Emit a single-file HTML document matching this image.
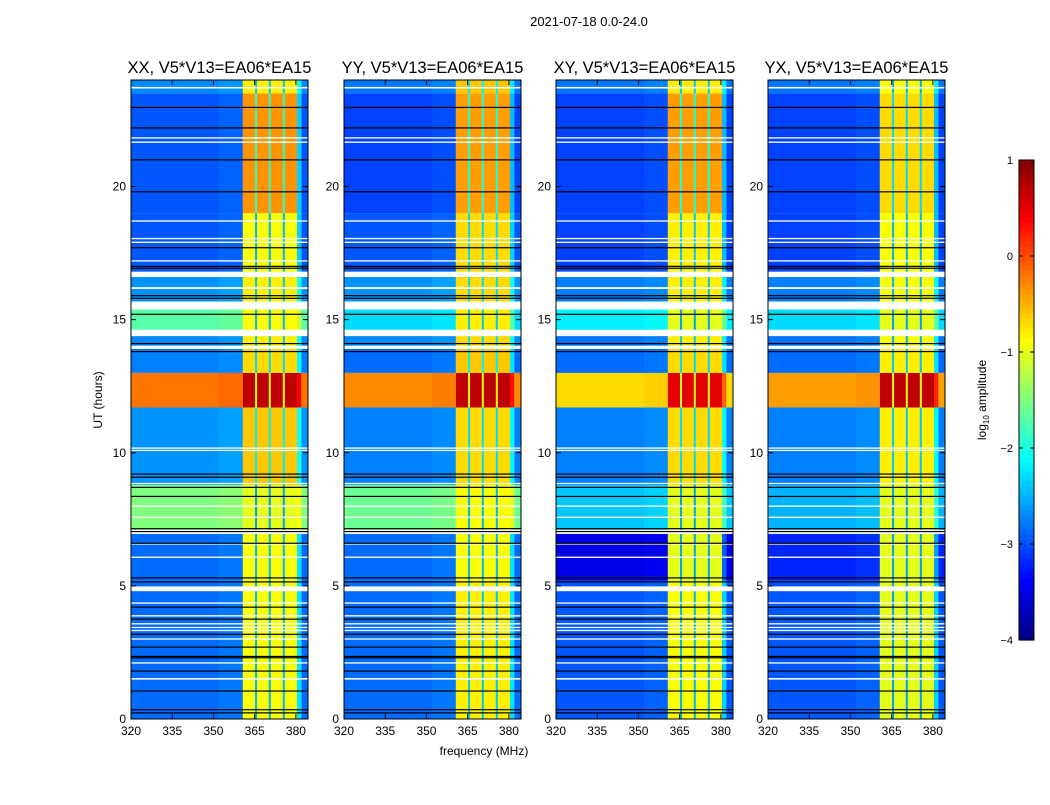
<!DOCTYPE html>
<html><head><meta charset="utf-8">
<style>
body{margin:0;background:#fff;font-family:"Liberation Sans",sans-serif;}
svg text{font-family:"Liberation Sans",sans-serif;}
</style></head>
<body>
<svg id="chart" width="1050" height="800" xmlns="http://www.w3.org/2000/svg">
<rect width="1050" height="800" fill="#fff"/>
<text x="589" y="26" font-size="13" text-anchor="middle">2021-07-18 0.0-24.0</text>
<text x="484" y="755" font-size="12" text-anchor="middle">frequency (MHz)</text>
<text transform="translate(102,400) rotate(-90)" font-size="12" text-anchor="middle">UT (hours)</text>
<g id="panels"></g>
<g id="cbar"></g>
</svg>
<script>
const panelTitles = ["XX, V5*V13=EA06*EA15","YY, V5*V13=EA06*EA15","XY, V5*V13=EA06*EA15","YX, V5*V13=EA06*EA15"];
const panelLeft = [131, 344, 556, 768];
const xTicks = [320, 335, 350, 365, 380];
const yTicks = [0, 5, 10, 15, 20];
const cbarTicks = [1, 0, -1, -2, -3, -4];
const bandRange = [360.7, 380.4];
const bandSeparators = [365.5, 370.5, 375.6];
// segments: [tStart, tEnd, backgroundLog, bandLog]
const segXX = [[0,5.2,-2.85,-0.9],[5.2,7.0,-2.85,-0.9],[7.1,8.8,-1.5,-1.0],[8.8,11.7,-2.65,-0.6],[11.7,13.0,-0.2,0.7],[13.0,14.0,-2.75,-0.7],[14.0,14.4,-2.7,-0.8],[14.6,15.4,-1.7,-0.9],[15.6,16.8,-2.65,-0.8],[16.8,19.0,-2.95,-0.9],[19.0,23.5,-2.95,-0.35],[23.5,24,-2.7,-0.8]];
const segYY = [[0,5.2,-2.85,-0.8],[5.2,7.0,-2.85,-0.9],[7.1,8.8,-1.6,-0.9],[8.8,11.7,-2.75,-0.7],[11.7,13.0,-0.3,0.7],[13.0,14.0,-2.85,-0.6],[14.0,14.4,-2.7,-0.7],[14.6,15.4,-2.3,-0.8],[15.6,16.8,-2.65,-0.7],[16.8,19.0,-2.95,-0.7],[19.0,23.5,-3.05,-0.4],[23.5,24,-2.8,-0.6]];
const segXY = [[0,5.2,-2.95,-0.9],[5.2,7.0,-3.5,-1.0],[7.1,8.8,-2.4,-1.0],[8.8,11.7,-2.75,-0.7],[11.7,13.0,-0.7,0.5],[13.0,14.0,-2.85,-0.7],[14.0,14.4,-2.8,-0.8],[14.6,15.4,-2.2,-1.0],[15.6,16.8,-2.75,-0.8],[16.8,19.0,-3.05,-0.8],[19.0,23.5,-3.05,-0.4],[23.5,24,-2.8,-0.8]];
const segYX = [[0,5.2,-2.95,-1.0],[5.2,7.0,-3.2,-1.0],[7.1,8.8,-2.5,-1.0],[8.8,11.7,-2.75,-0.8],[11.7,13.0,-0.4,0.7],[13.0,14.0,-2.85,-0.8],[14.0,14.4,-2.8,-0.9],[14.6,15.4,-2.3,-1.0],[15.6,16.8,-2.75,-0.9],[16.8,19.0,-3.05,-0.9],[19.0,23.5,-3.05,-0.7],[23.5,24,-2.8,-0.9]];
const panelSegments = [segXX, segYY, segXY, segYX];
// flagged (white) intervals in hours
const flagged = [[23.68,23.74],[21.8,21.85],[21.64,21.69],[18.68,18.73],[18.02,18.07],[17.88,17.93],[17.18,17.23],[16.15,16.22],[16.6,16.8],[15.38,15.68],[14.38,14.62],[13.9,14.02],[10.15,10.2],[10.07,10.11],[8.83,8.87],[8.68,8.72],[7.97,8.02],[7.55,7.6],[6.95,7.08],[6.55,6.6],[6.05,6.1],[4.8,4.98],[4.33,4.38],[3.85,3.9],[3.55,3.6],[3.42,3.46],[3.3,3.35],[2.98,3.03],[2.08,2.13],[1.48,1.54]];
// thin dark (black) rows in hours
const darkRows = [22.97,22.2,21.0,19.8,17.7,17.0,16.93,15.9,15.8,15.2,14.1,13.8,9.2,9.08,8.7,8.36,7.15,7.04,6.6,5.3,5.15,4.2,3.75,3.18,2.7,2.35,2.3,1.8,1.05,0.35,0.23];

const NS='http://www.w3.org/2000/svg';
const fMin=320, fMax=384.4, tMax=24, pW=177, pTop=80, pBot=719;
function mk(tag, attrs, parent){const e=document.createElementNS(NS,tag);for(const k in attrs)e.setAttribute(k,attrs[k]);parent.appendChild(e);return e;}
function jet(v){const t=Math.max(0,Math.min(1,(v+4)/5));const c=x=>Math.round(255*Math.max(0,Math.min(1,x)));return `rgb(${c(1.5-Math.abs(4*t-3))},${c(1.5-Math.abs(4*t-2))},${c(1.5-Math.abs(4*t-1))})`;}
const yScale = t => pBot - (t/tMax)*(pBot-pTop);
const panelsG = document.getElementById('panels');

panelTitles.forEach((title, p) => {
  const x0 = panelLeft[p];
  const xScale = f => x0 + (f-fMin)/(fMax-fMin)*pW;
  const g = mk('g',{},panelsG);
  
  
  const clipId='clip'+p;
  const cp=mk('clipPath',{id:clipId},g); mk('rect',{x:x0,y:pTop,width:pW,height:pBot-pTop},cp);
  const cells=mk('g',{'clip-path':`url(#${clipId})`},g);
  mk('rect',{x:x0,y:pTop,width:pW,height:pBot-pTop,fill:'#fff'},cells);
  panelSegments[p].forEach(s => {
    const y1=yScale(s[1]), y2=yScale(s[0]);
    const r1=mk('rect',{x:x0,y:y1,width:xScale(bandRange[0])-x0,height:y2-y1,fill:jet(s[2])},cells);
    
    
    mk('rect',{x:xScale(352),y:y1,width:xScale(bandRange[0])-xScale(352),height:y2-y1,fill:jet(s[2]+0.15),opacity:0.4},cells);
    const r2=mk('rect',{x:xScale(bandRange[0]),y:y1,width:xScale(bandRange[1])-xScale(bandRange[0]),height:y2-y1,fill:jet(s[3])},cells);
    
    
    mk('rect',{x:xScale(bandRange[1]),y:y1,width:xScale(382)-xScale(bandRange[1]),height:y2-y1,fill:jet(s[2]+0.6)},cells);
    mk('rect',{x:xScale(382),y:y1,width:xScale(fMax)-xScale(382),height:y2-y1,fill:jet(s[2])},cells);
    bandSeparators.forEach(f => {
      mk('rect',{x:xScale(f)-1,y:y1,width:2,height:y2-y1,fill:jet(s[3]-1.6)},cells);
    });
  });
  flagged.forEach(fl => {
    const y1=yScale(fl[1]), y2=yScale(fl[0]);
    const r=mk('rect',{x:x0,y:y1,width:pW,height:Math.max(1.2,y2-y1),fill:'#fff'},cells);
    
    
  });
  darkRows.forEach(t => {
    mk('rect',{x:x0,y:yScale(t)-0.6,width:pW,height:1.2,fill:'#000'},cells);
  });
  mk('rect',{x:x0,y:pTop,width:pW,height:pBot-pTop,fill:'none',stroke:'#000','stroke-width':1},g);
  const tt=mk('text',{x:x0+pW/2,y:73,'font-size':16.5,'text-anchor':'middle'},g);
  tt.textContent=title;
  
  
  xTicks.forEach(v => {
    const x=xScale(v);
    mk('line',{x1:x,x2:x,y1:pBot,y2:pBot-5,stroke:'#000'},g);
    mk('line',{x1:x,x2:x,y1:pTop,y2:pTop+5,stroke:'#000'},g);
    const l=mk('text',{x:x,y:pBot+16,'font-size':12,'text-anchor':'middle'},g);
    l.textContent=v;
    
    
  });
  yTicks.forEach(v => {
    const y=yScale(v);
    mk('line',{x1:x0,x2:x0+5,y1:y,y2:y,stroke:'#000'},g);
    mk('line',{x1:x0+pW,x2:x0+pW-5,y1:y,y2:y,stroke:'#000'},g);
    const l=mk('text',{x:x0-5,y:y+4,'font-size':12,'text-anchor':'end'},g);
    l.textContent=v;
    
    
  });
});

// colorbar
const cb=document.getElementById('cbar');


const cbX=1019, cbW=15, cbTop=160, cbBot=640;
const cbScale = v => cbBot - (v+4)/5*(cbBot-cbTop);
for(let i=0;i<100;i++){
  const v1=-4+5*i/100, v2=-4+5*(i+1)/100;
  mk('rect',{x:cbX,y:cbScale(v2),width:cbW,height:cbScale(v1)-cbScale(v2)+0.6,fill:jet((v1+v2)/2)},cb);
}
mk('rect',{x:cbX,y:cbTop,width:cbW,height:cbBot-cbTop,fill:'none',stroke:'#000'},cb);
cbarTicks.forEach(v => {
  const y=cbScale(v);
  mk('line',{x1:cbX,x2:cbX+4,y1:y,y2:y,stroke:'#000'},cb);
  mk('line',{x1:cbX+cbW,x2:cbX+cbW-4,y1:y,y2:y,stroke:'#000'},cb);
  const l=mk('text',{x:cbX-6,y:y+4,'font-size':11,'text-anchor':'end'},cb);
  l.textContent=v<0?'\u2212'+Math.abs(v):v;
  
  
});
const cl=mk('text',{transform:'translate(986,400) rotate(-90)','font-size':12,'text-anchor':'middle'},cb);
cl.innerHTML='log<tspan font-size="8" dy="3">10</tspan><tspan dy="-3"> amplitude</tspan>';


</script>
</body></html>
